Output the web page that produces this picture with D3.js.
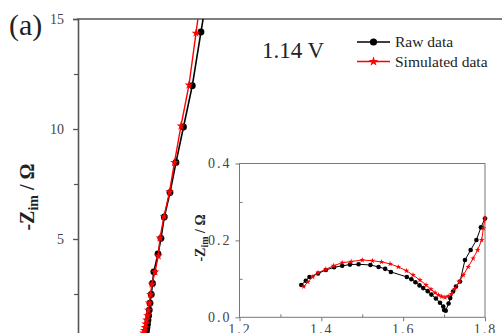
<!DOCTYPE html>
<html><head><meta charset="utf-8">
<script src="https://cdn.jsdelivr.net/npm/d3@7"></script>
<style>html,body{margin:0;padding:0;background:#fff;}svg{display:block;}</style>
</head><body>
<script>
// ---- main plot data (Z_re, -Z_im in Ohm) ----
const mainRawRe = [1.98, 2.03, 2.061, 2.076, 2.091, 2.106, 2.121, 2.142, 2.161, 2.182, 2.221, 2.258, 2.297, 2.424, 2.515, 2.615, 2.788, 2.970, 3.197, 3.464, 3.727, 3.985];
const mainRawIm = [0.45, 0.58, 0.73, 0.84, 0.98, 1.14, 1.32, 1.52, 1.77, 2.08, 2.48, 2.98, 3.51, 4.32, 5.03, 6.00, 7.11, 8.48, 10.09, 11.97, 14.41, 16.80];
const mainSimRe = [1.91, 1.96, 1.985, 2.009, 2.030, 2.052, 2.076, 2.106, 2.130, 2.161, 2.197, 2.242, 2.333, 2.433, 2.485, 2.606, 2.773, 2.924, 3.121, 3.364, 3.576, 3.794];
const mainSimIm = [0.45, 0.58, 0.73, 0.84, 0.98, 1.14, 1.32, 1.52, 1.77, 2.09, 2.48, 2.95, 3.50, 4.23, 5.05, 6.02, 7.14, 8.48, 10.14, 12.00, 14.36, 16.80];
const mainYTicks = [5, 10, 15];
const mainYMinor = [2.5, 7.5, 12.5];

// ---- inset data ----
const insetRawRe = [1.351, 1.362, 1.371, 1.392, 1.411, 1.431, 1.451, 1.470, 1.491, 1.520, 1.540, 1.556, 1.570, 1.609, 1.620, 1.630, 1.640, 1.649, 1.660, 1.669, 1.680, 1.690, 1.698, 1.700, 1.704, 1.711, 1.715, 1.722, 1.729, 1.739, 1.751, 1.765, 1.779, 1.790, 1.800];
const insetRawIm = [0.084, 0.095, 0.105, 0.114, 0.123, 0.130, 0.134, 0.137, 0.138, 0.136, 0.131, 0.126, 0.118, 0.105, 0.099, 0.091, 0.083, 0.076, 0.068, 0.059, 0.049, 0.038, 0.028, 0.019, 0.017, 0.036, 0.050, 0.067, 0.080, 0.093, 0.149, 0.175, 0.201, 0.234, 0.257];
const insetSimRe = [1.357, 1.367, 1.379, 1.392, 1.411, 1.430, 1.451, 1.473, 1.500, 1.525, 1.547, 1.568, 1.588, 1.608, 1.624, 1.641, 1.656, 1.668, 1.678, 1.686, 1.694, 1.702, 1.710, 1.718, 1.726, 1.737, 1.747, 1.759, 1.771, 1.782, 1.792, 1.796, 1.800];
const insetSimIm = [0.080, 0.092, 0.105, 0.116, 0.125, 0.134, 0.142, 0.145, 0.149, 0.147, 0.144, 0.139, 0.131, 0.121, 0.110, 0.097, 0.084, 0.073, 0.064, 0.058, 0.054, 0.052, 0.055, 0.061, 0.074, 0.093, 0.110, 0.131, 0.153, 0.175, 0.201, 0.232, 0.258];
const insetXTicks = [1.2, 1.4, 1.6, 1.8];
const insetXMinor = [1.3, 1.5, 1.7];
const insetYTicks = [0.0, 0.2, 0.4];
const insetYMinor = [0.1, 0.3];

const legendLabels = ["Raw data", "Simulated data"];
const voltageLabel = "1.14 V";
const panelLabel = "(a)";

const W = 502, H = 333;
const AX = "#555";
const serif = "'Liberation Serif','Times New Roman',serif";

const svg = d3.select("body").append("svg").attr("width", W).attr("height", H)
  .style("font-family", serif);
svg.append("rect").attr("width", W).attr("height", H).attr("fill", "#fff");

// ---- main scales ----
const x = d3.scaleLinear().domain([0, 12.85]).range([78, 502]);
const y = d3.scaleLinear().domain([0, 15]).range([349, 19]);

svg.append("clipPath").attr("id", "mclip").append("rect")
  .attr("x", 78).attr("y", 19).attr("width", 424).attr("height", 330);

// main axes
const yAx = svg.append("g").attr("transform", "translate(78,0)")
  .call(d3.axisLeft(y).tickValues(mainYTicks).tickSize(5).tickPadding(9).tickFormat(d3.format("d")));
yAx.select(".domain").attr("stroke", AX).attr("stroke-width", 1.6);
yAx.selectAll(".tick line").attr("stroke", AX).attr("stroke-width", 1.3);
yAx.selectAll(".tick text").attr("font-size", 14).attr("font-family", serif).attr("fill", "#444");
const yMin = svg.append("g").attr("transform", "translate(78,0)")
  .call(d3.axisLeft(y).tickValues(mainYMinor).tickSize(4).tickFormat(""));
yMin.select(".domain").remove();
yMin.selectAll(".tick line").attr("stroke", AX).attr("stroke-width", 1.2);
// top border
svg.append("line").attr("x1", 77.2).attr("x2", 502).attr("y1", y(15)).attr("y2", y(15))
  .attr("stroke", AX).attr("stroke-width", 1.6);

// main y label
const yl = svg.append("text").attr("transform", "translate(34,197) rotate(-90)")
  .attr("text-anchor", "middle").attr("font-size", 20).attr("font-weight", "bold").attr("fill", "#222");
yl.append("tspan").text("-Z");
yl.append("tspan").attr("font-size", 14).attr("dy", 4).text("im");
yl.append("tspan").attr("dy", -4).text(" / Ω");

svg.append("text").attr("x", 9).attr("y", 35).attr("font-size", 30).attr("fill", "#222").text(panelLabel);
svg.append("text").attr("x", 262).attr("y", 58).attr("font-size", 23).attr("fill", "#222").text(voltageLabel);

// main data
const mg = svg.append("g").attr("clip-path", "url(#mclip)");
const rawMain = mainRawRe.map((d, i) => [d, mainRawIm[i]]);
const simMain = mainSimRe.map((d, i) => [d, mainSimIm[i]]);
const lineM = d3.line().x(d => x(d[0])).y(d => y(d[1]));
mg.append("path").datum(rawMain).attr("d", lineM).attr("fill", "none").attr("stroke", "#000").attr("stroke-width", 1.6);
mg.selectAll(".rc").data(rawMain).join("circle").attr("cx", d => x(d[0])).attr("cy", d => y(d[1]))
  .attr("r", 3.4).attr("fill", "#000");
mg.append("path").datum(simMain).attr("d", lineM).attr("fill", "none").attr("stroke", "#f00").attr("stroke-width", 1.4);
const starM = d3.symbol().type(d3.symbolStar).size(24);
mg.selectAll(".rs").data(simMain).join("path").attr("d", starM)
  .attr("transform", d => `translate(${x(d[0])},${y(d[1])})`).attr("fill", "#f00");

// legend
const lg = svg.append("g");
[0, 1].forEach(i => {
  const ly = 42 + i * 19.5;
  const col = i === 0 ? "#000" : "#f00";
  lg.append("line").attr("x1", 357).attr("x2", 390).attr("y1", ly).attr("y2", ly)
    .attr("stroke", col).attr("stroke-width", 1.6);
  if (i === 0) lg.append("circle").attr("cx", 373.5).attr("cy", ly).attr("r", 3.6).attr("fill", col);
  else lg.append("path").attr("d", d3.symbol().type(d3.symbolStar).size(30)).attr("transform", `translate(373.5,${ly})`).attr("fill", col);
  lg.append("text").attr("x", 395).attr("y", ly + 5).attr("font-size", 15.5).attr("fill", "#222").text(legendLabels[i]);
});

// ---- inset ----
const ix = d3.scaleLinear().domain([1.2, 1.8]).range([239.5, 485]);
const iy = d3.scaleLinear().domain([0, 0.4]).range([317.3, 163.5]);
const ig = svg.append("g");
ig.append("rect").attr("x", ix(1.2)).attr("y", iy(0.4)).attr("width", ix(1.8) - ix(1.2)).attr("height", iy(0) - iy(0.4))
  .attr("fill", "#fff").attr("stroke", "#777").attr("stroke-width", 1);
const ixAx = ig.append("g").attr("transform", `translate(0,${iy(0)})`)
  .call(d3.axisBottom(ix).tickValues(insetXTicks).tickSize(4).tickPadding(3).tickFormat(d3.format(".1f")));
ixAx.select(".domain").remove();
ixAx.selectAll(".tick line").attr("stroke", "#777");
ixAx.selectAll(".tick text").attr("font-size", 14).attr("font-family", serif).attr("fill", "#444")
  .attr("letter-spacing", 2).attr("dy", "0.72em");
const ixMin = ig.append("g").attr("transform", `translate(0,${iy(0)})`)
  .call(d3.axisTop(ix).tickValues(insetXMinor).tickSize(3).tickFormat(""));
ixMin.select(".domain").remove();
ixMin.selectAll(".tick line").attr("stroke", "#777");
const iyAx = ig.append("g").attr("transform", `translate(${ix(1.2)},0)`)
  .call(d3.axisLeft(iy).tickValues(insetYTicks).tickSize(4).tickPadding(4).tickFormat(d3.format(".1f")));
iyAx.select(".domain").remove();
iyAx.selectAll(".tick line").attr("stroke", "#777");
iyAx.selectAll(".tick text").attr("font-size", 14).attr("font-family", serif).attr("fill", "#444")
  .attr("letter-spacing", 2);
const iyMin = ig.append("g").attr("transform", `translate(${ix(1.2)},0)`)
  .call(d3.axisRight(iy).tickValues(insetYMinor).tickSize(3).tickFormat(""));
iyMin.select(".domain").remove();
iyMin.selectAll(".tick line").attr("stroke", "#777");

const iyl = ig.append("text").attr("transform", "translate(205,238) rotate(-90)")
  .attr("text-anchor", "middle").attr("font-size", 14).attr("font-weight", "bold").attr("fill", "#222");
iyl.append("tspan").text("-Z");
iyl.append("tspan").attr("font-size", 10).attr("dy", 3).text("im");
iyl.append("tspan").attr("dy", -3).text(" / Ω");

const rawIn = insetRawRe.map((d, i) => [d, insetRawIm[i]]);
const simIn = insetSimRe.map((d, i) => [d, insetSimIm[i]]);
const lineI = d3.line().x(d => ix(d[0])).y(d => iy(d[1]));
ig.append("path").datum(rawIn).attr("d", lineI).attr("fill", "none").attr("stroke", "#000").attr("stroke-width", 1);
ig.selectAll(".ic").data(rawIn).join("circle").attr("cx", d => ix(d[0])).attr("cy", d => iy(d[1]))
  .attr("r", 2.3).attr("fill", "#000");
ig.append("path").datum(simIn).attr("d", lineI).attr("fill", "none").attr("stroke", "#f00").attr("stroke-width", 1);
const starI = d3.symbol().type(d3.symbolStar).size(10);
ig.selectAll(".is").data(simIn).join("path").attr("d", starI)
  .attr("transform", d => `translate(${ix(d[0])},${iy(d[1])})`).attr("fill", "#f00");
</script>
</body></html>
